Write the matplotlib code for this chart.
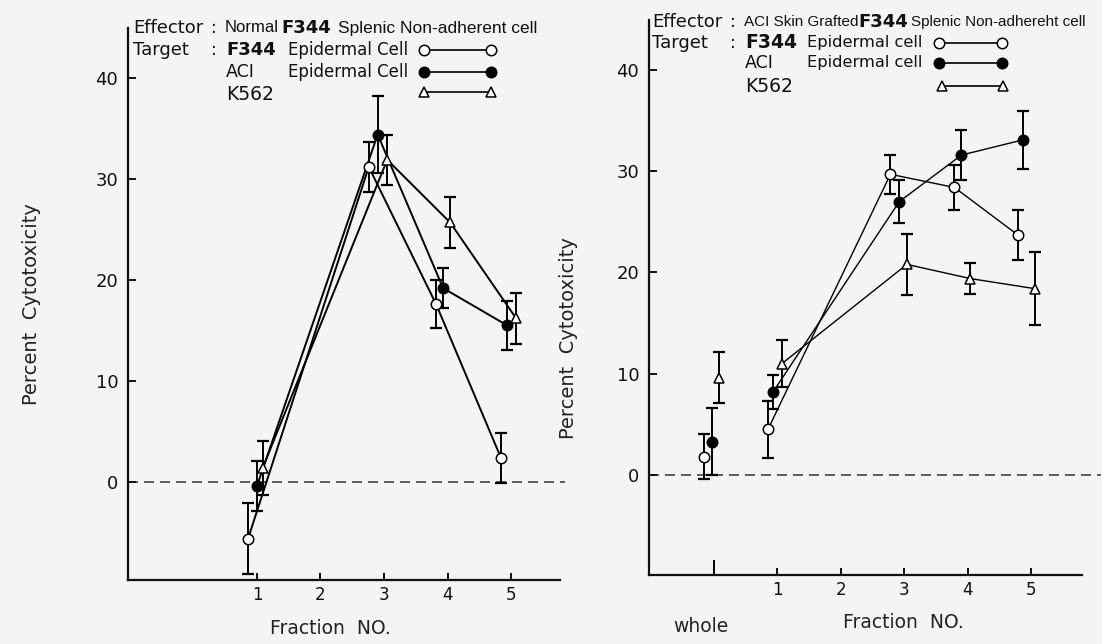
import matplotlib
matplotlib.use('Agg')
import matplotlib.pyplot as plt
from matplotlib.lines import Line2D

# ---------------- data ----------------
fractions = [1, 2, 3, 4, 5]

# Left panel: Normal F344 splenic non-adherent effector
n_f344_x = [0.86, 2.76, 3.82, 4.84]
n_f344_y = [-5.6, 31.2, 17.6, 2.4]
n_f344_e = [3.5, 2.5, 2.4, 2.5]

n_aci_x = [1.00, 2.90, 3.93, 4.94]
n_aci_y = [-0.4, 34.4, 19.2, 15.5]
n_aci_e = [2.5, 3.8, 2.0, 2.4]

n_k562_x = [1.09, 3.05, 4.04, 5.08]
n_k562_y = [1.4, 31.9, 25.7, 16.2]
n_k562_e = [2.7, 2.5, 2.5, 2.5]

# Right panel: ACI skin grafted F344 effector (first point = whole)
g_f344_x = [-0.16, 0.85, 2.78, 3.79, 4.79]
g_f344_y = [1.8, 4.5, 29.7, 28.4, 23.7]
g_f344_e = [2.2, 2.8, 1.9, 2.2, 2.5]

g_aci_x = [-0.03, 0.93, 2.92, 3.90, 4.87]
g_aci_y = [3.3, 8.2, 27.0, 31.6, 33.1]
g_aci_e = [3.3, 1.7, 2.1, 2.5, 2.9]

g_k562_x = [0.08, 1.07, 3.04, 4.04, 5.06]
g_k562_y = [9.6, 11.0, 20.8, 19.4, 18.4]
g_k562_e = [2.5, 2.3, 3.0, 1.5, 3.6]

y_ticks = [0, 10, 20, 30, 40]

# ---------------- figure ----------------
W, H = 1102, 644
BG = '#f4f4f2'
fig = plt.figure(figsize=(W / 100, H / 100), dpi=100)
fig.patch.set_facecolor(BG)

MAIN = ['DejaVu Sans']
NARROW = ['Liberation Sans', 'DejaVu Sans']


def fx(x):
    return x / W


def fy(y):
    return 1 - y / H


def style_axes(ax, xlim, ylim):
    ax.set_facecolor(BG)
    ax.set_xlim(*xlim)
    ax.set_ylim(*ylim)
    for s in ['top', 'right']:
        ax.spines[s].set_visible(False)
    for s in ['left', 'bottom']:
        ax.spines[s].set_linewidth(1.6)
        ax.spines[s].set_color('#111111')
    ax.set_yticks(y_ticks)
    ax.set_yticklabels([str(v) for v in y_ticks], fontsize=13, family=MAIN)
    ax.set_xticks(fractions)
    ax.set_xticklabels([str(v) for v in fractions], fontsize=12, family=MAIN)
    ax.tick_params(axis='y', direction='in', length=6, width=1.4, pad=7, colors='#111111')
    ax.tick_params(axis='x', direction='in', length=5, width=1.4, pad=4, colors='#111111')


def series(ax, x, y, e, marker, mfc, start=0, lw=1.1, ms=7.5):
    ax.errorbar(x, y, yerr=e, fmt='none', ecolor='black', elinewidth=1.4,
                capsize=4, capthick=1.6, zorder=3, clip_on=False)
    ax.plot(x[start:], y[start:], '-', color='black', lw=lw, zorder=2, clip_on=False)
    ax.plot(x, y, linestyle='none', marker=marker, ms=ms, mfc=mfc,
            mec='black', mew=1.1, zorder=4, clip_on=False)


# ---------------- left panel ----------------
axL = fig.add_axes([fx(128), fy(580), fx(560) - fx(128), fy(28) - fy(580)])
style_axes(axL, (-1.03, 5.77), (-9.70, 44.95))
axL.plot([-1.03, 5.85], [0, 0], color='#444444', lw=1.2, dashes=(6, 3.6), zorder=1, clip_on=False)
series(axL, n_f344_x, n_f344_y, n_f344_e, 'o', 'white', lw=1.4)
series(axL, n_aci_x, n_aci_y, n_aci_e, 'o', 'black', lw=1.4)
series(axL, n_k562_x, n_k562_y, n_k562_e, '^', 'white', lw=1.4, ms=7)

# ---------------- right panel ----------------
axR = fig.add_axes([fx(649), fy(575), fx(1082) - fx(649), fy(20) - fy(575)])
style_axes(axR, (-1.025, 5.80), (-9.88, 44.94))
axR.set_xticks([0], minor=True)
axR.tick_params(axis='x', which='minor', direction='in', length=11, width=1.4)
axR.plot([-1.025, 6.1], [0, 0], color='#444444', lw=1.2, dashes=(6, 3.6), zorder=1, clip_on=False)
series(axR, g_f344_x, g_f344_y, g_f344_e, 'o', 'white', start=1, lw=1.0)
series(axR, g_aci_x, g_aci_y, g_aci_e, 'o', 'black', start=1, lw=1.0)
series(axR, g_k562_x, g_k562_y, g_k562_e, '^', 'white', start=1, lw=1.0, ms=7)

# ---------------- axis titles ----------------
fig.text(fx(32), fy(304), 'Percent  Cytotoxicity', rotation=90, ha='center', va='center',
         fontsize=14, family=MAIN, color='#222222')
fig.text(fx(568), fy(338), 'Percent  Cytotoxicity', rotation=90, ha='center', va='center',
         fontsize=14, family=MAIN, color='#222222')
fig.text(fx(330), fy(628), 'Fraction  NO.', ha='center', va='center', fontsize=13.5,
         family=MAIN, color='#222222')
fig.text(fx(903), fy(623), 'Fraction  NO.', ha='center', va='center', fontsize=13.5,
         family=MAIN, color='#222222')
fig.text(fx(701), fy(627), 'whole', ha='center', va='center', fontsize=13.5,
         family=MAIN, color='#222222')


# ---------------- legends (text blocks) ----------------
def t(x, y, s, size=12.5, family=MAIN, weight='normal'):
    fig.text(fx(x), fy(y), s, ha='left', va='center', fontsize=size,
             family=family, weight=weight, color='#111111')


def key(x0, x1, y, marker, mfc, ms=7.5):
    fig.add_artist(Line2D([fx(x0), fx(x1)], [fy(y), fy(y)], transform=fig.transFigure,
                          color='black', lw=1.2, marker=marker, ms=ms, mfc=mfc,
                          mec='black', mew=1.1))


# left legend
t(133, 28, 'Effector', size=13)
t(211, 28, ':')
t(225, 28, 'Normal', size=12, family=NARROW)
t(281, 28, 'F344', size=13, weight='bold')
t(338, 28, 'Splenic Non-adherent cell', size=12.5, family=NARROW)
t(133, 50, 'Target', size=13)
t(211, 50, ':')
t(226, 50, 'F344', size=13, weight='bold')
t(288, 50, 'Epidermal Cell', size=12)
t(226, 72, 'ACI')
t(288, 72, 'Epidermal Cell', size=12)
t(226, 94, 'K562', size=13.5)
key(424, 491, 50, 'o', 'white')
key(424, 491, 72, 'o', 'black')
key(424, 491, 92, '^', 'white', ms=7)

# right legend
t(652, 22, 'Effector', size=13)
t(730, 22, ':')
t(744, 22, 'ACI Skin Grafted', size=11, family=NARROW)
t(858, 22, 'F344', size=13, weight='bold')
t(911, 22, 'Splenic Non-adhereht cell', size=11, family=NARROW)
t(652, 43, 'Target', size=13)
t(730, 43, ':')
t(745, 43, 'F344', size=13.5, weight='bold')
t(807, 43, 'Epidermal cell', size=11.7)
t(745, 63, 'ACI')
t(807, 63, 'Epidermal cell', size=11.7)
t(745, 87, 'K562', size=13.5)
key(939, 1002, 43, 'o', 'white')
key(939, 1002, 63, 'o', 'black')
key(942, 1003, 86, '^', 'white', ms=7)

fig.savefig('out.png', dpi=100, facecolor=BG)
